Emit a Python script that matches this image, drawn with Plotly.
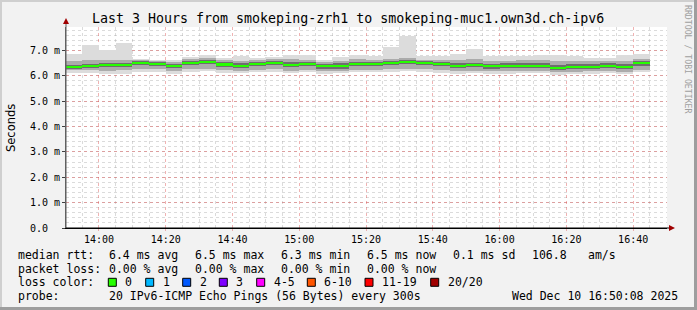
import plotly.graph_objects as go

# ---------------- data ----------------
times = ["13:50", "13:55", "14:00", "14:05", "14:10", "14:15", "14:20", "14:25", "14:30", "14:35",
         "14:40", "14:45", "14:50", "14:55", "15:00", "15:05", "15:10", "15:15", "15:20", "15:25",
         "15:30", "15:35", "15:40", "15:45", "15:50", "15:55", "16:00", "16:05", "16:10", "16:15",
         "16:20", "16:25", "16:30", "16:35", "16:40"]

median_ms = [6.35, 6.40, 6.44, 6.44, 6.52, 6.48, 6.39, 6.52, 6.56, 6.45,
             6.40, 6.47, 6.52, 6.44, 6.47, 6.39, 6.40, 6.48, 6.48, 6.52,
             6.56, 6.52, 6.47, 6.40, 6.43, 6.38, 6.40, 6.40, 6.40, 6.32,
             6.35, 6.35, 6.40, 6.35, 6.49]
smoke_max = [6.86, 7.22, 7.02, 7.31, 6.66, 6.62, 6.62, 6.73, 6.82, 6.72,
             6.78, 6.72, 6.76, 6.82, 6.82, 6.64, 6.76, 6.82, 6.78, 7.13,
             7.59, 6.80, 6.78, 6.86, 7.06, 6.80, 6.78, 6.78, 6.82, 6.84,
             6.80, 6.69, 6.70, 6.82, 6.86]
smoke_min = [6.12, 6.12, 6.06, 6.06, 6.16, 6.16, 6.06, 6.16, 6.18, 6.12,
             6.10, 6.14, 6.16, 6.10, 6.14, 6.08, 6.10, 6.14, 6.14, 6.16,
             6.18, 6.16, 6.12, 6.08, 6.10, 6.06, 6.08, 6.10, 6.10, 6.04,
             6.06, 6.08, 6.10, 6.06, 6.14]
smoke_lo1 = [6.22, 6.22, 6.20, 6.22, 6.26, 6.26, 6.20, 6.26, 6.28, 6.22,
             6.20, 6.24, 6.26, 6.20, 6.24, 6.18, 6.20, 6.24, 6.24, 6.26,
             6.28, 6.26, 6.22, 6.18, 6.20, 6.18, 6.20, 6.20, 6.20, 6.14,
             6.16, 6.18, 6.20, 6.16, 6.24]
smoke_hi1 = [6.58, 6.62, 6.62, 6.64, 6.62, 6.58, 6.56, 6.66, 6.70, 6.62,
             6.60, 6.62, 6.66, 6.66, 6.64, 6.56, 6.60, 6.66, 6.62, 6.68,
             6.72, 6.64, 6.62, 6.64, 6.66, 6.60, 6.60, 6.62, 6.62, 6.58,
             6.60, 6.58, 6.60, 6.60, 6.68]
smoke_lo2 = [6.28, 6.32, 6.36, 6.36, 6.44, 6.40, 6.30, 6.44, 6.46, 6.36,
             6.30, 6.38, 6.44, 6.34, 6.38, 6.28, 6.28, 6.38, 6.40, 6.44,
             6.46, 6.42, 6.38, 6.30, 6.34, 6.28, 6.30, 6.32, 6.30, 6.24,
             6.26, 6.26, 6.30, 6.26, 6.40]
smoke_hi2 = [6.44, 6.48, 6.52, 6.52, 6.58, 6.56, 6.48, 6.60, 6.64, 6.54,
             6.50, 6.56, 6.60, 6.54, 6.56, 6.48, 6.50, 6.56, 6.56, 6.60,
             6.64, 6.60, 6.56, 6.50, 6.52, 6.48, 6.50, 6.50, 6.50, 6.44,
             6.46, 6.46, 6.50, 6.46, 6.58]

ytick_vals = [0, 1, 2, 3, 4, 5, 6, 7]
ytick_text = ["0.0\u00a0\u00a0", "1.0 m", "2.0 m", "3.0 m", "4.0 m", "5.0 m", "6.0 m", "7.0 m"]

title_text = "Last 3 Hours from smokeping-zrh1 to smokeping-muc1.own3d.ch-ipv6"
rtt_label = "median rtt:"
rtt_items = ["6.4 ms avg", "6.5 ms max", "6.3 ms min", "6.5 ms now", "0.1 ms sd", "106.8", "am/s"]
loss_label = "packet loss:"
loss_items = ["0.00 % avg", "0.00 % max", "0.00 % min", "0.00 % now"]
color_label = "loss color:"
loss_names = ["0", "1", "2", "3", "4-5", "6-10", "11-19", "20/20"]
loss_colors = ["#26ff00", "#00b8ff", "#0059ff", "#7e00ff", "#ff00ff", "#ff5500", "#ff0000", "#a00000"]
probe_label = "probe:"
probe_text = "20 IPv6-ICMP Echo Pings (56 Bytes) every 300s"
stamp_text = "Wed Dec 10 16:50:08 2025"
watermark = "RRDTOOL / TOBI OETIKER"

# ---------------- layout geometry ----------------
W, H = 697, 310
L, R, T, B = 66, 30, 27, 82
PW, PH = W - L - R, H - T - B
DAY = "2025-12-10 "
xs = [DAY + t for t in times]
STEP_MS = 300000


def px(x):
    return (x - L) / PW


def py(y):
    return (H - B - y) / PH


fig = go.Figure()

bands = [(smoke_min, smoke_max, "#dcdcdc"),
         (smoke_lo1, smoke_hi1, "#ababab"),
         (smoke_lo2, smoke_hi2, "#6e6e6e")]
for lo, hi, col in bands:
    fig.add_trace(go.Bar(x=xs, base=lo, y=[h - l for l, h in zip(lo, hi)],
                         width=STEP_MS, offset=0, marker=dict(color=col, line=dict(width=0)),
                         showlegend=False, hoverinfo="skip"))

MED_H = 0.085
fig.add_trace(go.Bar(x=xs, base=[m - MED_H / 2 for m in median_ms], y=[MED_H] * len(median_ms),
                     width=STEP_MS, offset=0, marker=dict(color=loss_colors[0], line=dict(width=0)),
                     showlegend=False, hoverinfo="skip"))

grid_minor = "rgba(160,160,160,0.38)"
grid_major = "rgba(222,87,87,0.45)"
mono = "DejaVu Sans Mono"

fig.update_layout(
    width=W, height=H,
    margin=dict(l=L, r=R, t=T, b=B, pad=0),
    paper_bgcolor="#f2f2f2", plot_bgcolor="#ffffff",
    barmode="overlay", bargap=0,
    showlegend=False,
    xaxis=dict(type="date", range=[DAY + "13:50:08", DAY + "16:50:08"],
               tick0=DAY + "14:00", dtick=20 * 60000, tickformat="%H:%M",
               showgrid=True, gridcolor=grid_major, griddash="dot", gridwidth=1,
               minor=dict(tick0=DAY + "13:50", dtick=STEP_MS, showgrid=True,
                          gridcolor=grid_minor, griddash="dot", gridwidth=1),
               showline=True, linecolor="#000000", linewidth=1,
               ticks="outside", ticklen=2, tickcolor=grid_major,
               tickfont=dict(family=mono, size=10, color="#000000"),
               zeroline=False, fixedrange=True),
    yaxis=dict(range=[0, PH / 25.36], tickvals=ytick_vals, ticktext=ytick_text,
               showgrid=True, gridcolor=grid_major, griddash="dot", gridwidth=1,
               minor=dict(dtick=0.2, showgrid=True, gridcolor=grid_minor, griddash="dot", gridwidth=1),
               showline=True, linecolor="#606060", linewidth=1,
               ticks="outside", ticklen=3, tickcolor="#404040",
               tickfont=dict(family=mono, size=10, color="#000000"),
               zeroline=False, fixedrange=True),
)

ann = []


def text(x, y, s, size=11.5, anchor="left", family=mono, color="#000000", angle=0):
    ann.append(dict(x=px(x), y=py(y), xref="paper", yref="paper", text=s, showarrow=False,
                    xanchor=anchor, yanchor="middle", textangle=angle,
                    font=dict(family=family, size=size, color=color)))


text(348, 19, title_text, size=13.3, anchor="center")
text(11, 128, "Seconds", size=11.5, anchor="center", family="DejaVu Sans", angle=-90)
text(688, 59, watermark, size=8.2, anchor="center", color="#a0a0a0", angle=90)

y1, y2, y3, y4 = 254.5, 268.5, 282.3, 296.3
text(16, y1, rtt_label)
for xx, s in zip([107, 193, 279, 365, 451, 530, 586], rtt_items):
    text(xx, y1, s)
text(16, y2, loss_label)
for xx, s in zip([107, 193, 279, 365], loss_items):
    text(xx, y2, s)
text(16, y3, color_label)
box_x = [108.3, 145.7, 182.7, 219.3, 256.7, 307.3, 365.0, 430.7]
shapes = []
for bx, nm, col in zip(box_x, loss_names, loss_colors):
    shapes.append(dict(type="rect", xref="paper", yref="paper",
                       x0=px(bx), x1=px(bx + 8), y0=py(y3 + 4), y1=py(y3 - 4),
                       fillcolor=col, line=dict(color="#000000", width=1)))
    text(bx + 15, y3, nm)
text(16, y4, probe_label)
text(107, y4, probe_text)
text(680, y4, stamp_text, anchor="right")

ax_col = "#a00000"
shapes.append(dict(type="line", xref="paper", yref="paper", x0=px(66), x1=px(66),
                   y0=py(228), y1=py(22), line=dict(color="#606060", width=1)))
shapes.append(dict(type="path", xref="paper", yref="paper",
                   path=f"M {px(63)} {py(24)} L {px(69)} {py(24)} L {px(66)} {py(18)} Z",
                   fillcolor=ax_col, line=dict(color=ax_col, width=0)))
shapes.append(dict(type="line", xref="paper", yref="paper", x0=px(66), x1=px(671),
                   y0=py(228), y1=py(228), line=dict(color="#000000", width=1)))
shapes.append(dict(type="path", xref="paper", yref="paper",
                   path=f"M {px(669)} {py(225)} L {px(669)} {py(231)} L {px(675)} {py(228)} Z",
                   fillcolor=ax_col, line=dict(color=ax_col, width=0)))

shapes.append(dict(type="rect", xref="paper", yref="paper", x0=px(0), x1=px(697), y0=py(0), y1=py(2),
                   fillcolor="#cfcfcf", line=dict(width=0), layer="below"))
shapes.append(dict(type="rect", xref="paper", yref="paper", x0=px(0), x1=px(2), y0=py(0), y1=py(310),
                   fillcolor="#cfcfcf", line=dict(width=0), layer="below"))
shapes.append(dict(type="rect", xref="paper", yref="paper", x0=px(0), x1=px(697), y0=py(307), y1=py(310),
                   fillcolor="#9e9e9e", line=dict(width=0), layer="below"))
shapes.append(dict(type="rect", xref="paper", yref="paper", x0=px(694), x1=px(697), y0=py(0), y1=py(310),
                   fillcolor="#9e9e9e", line=dict(width=0), layer="below"))

fig.update_layout(annotations=ann, shapes=shapes)
fig.write_html("out.html")
